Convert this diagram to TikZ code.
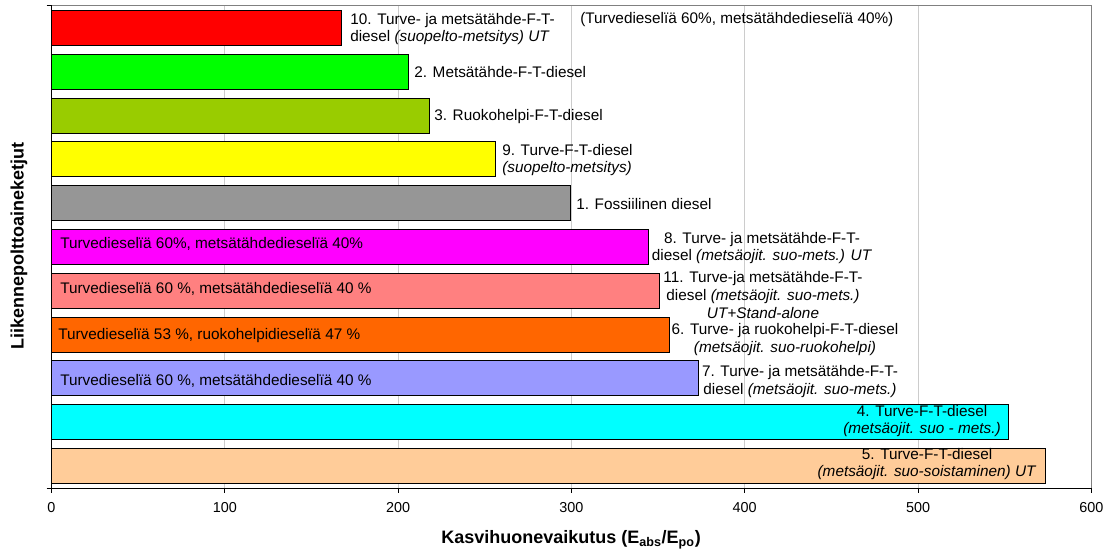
\documentclass[tikz,border=0pt]{standalone}
\usepackage{fontspec}
\setmainfont{Liberation Sans}
\definecolor{cRed}{HTML}{FF0000}
\definecolor{cGreen}{HTML}{00FF00}
\definecolor{cOlive}{HTML}{99CC00}
\definecolor{cYellow}{HTML}{FFFF00}
\definecolor{cGray}{HTML}{969696}
\definecolor{cMagenta}{HTML}{FF00FF}
\definecolor{cSalmon}{HTML}{FF8080}
\definecolor{cOrange}{HTML}{FF6600}
\definecolor{cLavender}{HTML}{9999FF}
\definecolor{cCyan}{HTML}{00FFFF}
\definecolor{cPeach}{HTML}{FFCC99}
\tikzset{
	bar/.style={draw=black, line width=0.75pt},
	gridline/.style={draw=gray!40, line width=0.75pt},
	frameline/.style={draw=gray, line width=0.75pt},
	axisline/.style={draw=black, line width=0.75pt},
	lab/.style={inner sep=0pt, font=\fontsize{11.5}{13.4}\selectfont},
	ticklab/.style={inner sep=0pt, font=\fontsize{10.8}{12}\selectfont},
	axtitle/.style={inner sep=0pt, font=\bfseries\fontsize{13.5}{15}\selectfont}
}
\begin{document}
\begin{tikzpicture}[x=0.75pt,y=-0.75pt]
	\useasboundingbox (0,0) rectangle (1106,552);
	% grid and frame
	\foreach \v in {100,200,...,500}{
		\draw[gridline] ({51.5+\v*1.733},6) -- ({51.5+\v*1.733},488);
	}
	\draw[frameline] (51.5,6) -- (1091.3,6) -- (1091.3,488);
	% bars, top to bottom
	\foreach \v/\c [count=\i] in {167.5/cRed, 206/cGreen, 218/cOlive, 256/cYellow, 299.6/cGray, 344.4/cMagenta, 351/cSalmon, 356.5/cOrange, 373.2/cLavender, 552/cCyan, 573.7/cPeach}{
		\pgfmathsetmacro\yc{6+(\i-0.5)*43.82}
		\draw[bar, fill=\c] (51.5,{\yc-17.5}) rectangle ({51.5+\v*1.733},{\yc+17.5});
	}
	% axes
	\draw[axisline] (51.5,6) -- (51.5,488) -- (1091.3,488);
	\draw[axisline] (46.5,6) -- (51.5,6);
	\draw[axisline] (46.5,488) -- (51.5,488);
	\foreach \v in {0,100,...,600}{
		\draw[axisline] ({51.5+\v*1.733},488) -- ({51.5+\v*1.733},492.5);
		\node[ticklab] (t\v) at ({51.5+\v*1.733},508) {\v};
	}
	% labels beside the bars
	\node[lab, anchor=west, align=left] (l10) at (350,29) {10. Turve- ja mets\"at\"ahde-F-T-\\diesel \textit{(suopelto-metsitys) UT}};
	\node[lab, anchor=west] (n10) at (580,20) {(Turvediesel\"i\"a 60\%, mets\"at\"ahdediesel\"i\"a 40\%)};
	\node[lab, anchor=west] (l2) at (414,72) {2. Mets\"at\"ahde-F-T-diesel};
	\node[lab, anchor=west] (l3) at (434,117) {3. Ruokohelpi-F-T-diesel};
	\node[lab, anchor=west, align=left] (l9) at (502,160) {9. Turve-F-T-diesel\\\textit{(suopelto-metsitys)}};
	\node[lab, anchor=west] (l1) at (576,204) {1. Fossiilinen diesel};
	\node[lab, anchor=west] (i8) at (60,244) {Turvediesel\"i\"a 60\%, mets\"at\"ahdediesel\"i\"a 40\%};
	\node[lab, align=center] (l8) at (762,248) {8. Turve- ja mets\"at\"ahde-F-T-\\diesel \textit{(mets\"aojit. suo-mets.) UT}};
	\node[lab, anchor=west] (i11) at (60,289) {Turvediesel\"i\"a 60 \%, mets\"at\"ahdediesel\"i\"a 40 \%};
	\node[lab, align=center] (l11) at (763,295) {11. Turve-ja mets\"at\"ahde-F-T-\\diesel \textit{(mets\"aojit. suo-mets.)}\\\textit{UT+Stand-alone}};
	\node[lab, anchor=west] (i6) at (58,336) {Turvediesel\"i\"a 53 \%, ruokohelpidiesel\"i\"a 47 \%};
	\node[lab, align=center] (l6) at (785,339.5) {6. Turve- ja ruokohelpi-F-T-diesel\\\textit{(mets\"aojit. suo-ruokohelpi)}};
	\node[lab, anchor=west] (i7) at (60,381) {Turvediesel\"i\"a 60 \%, mets\"at\"ahdediesel\"i\"a 40 \%};
	\node[lab, align=center] (l7) at (800,381.7) {7. Turve- ja mets\"at\"ahde-F-T-\\diesel \textit{(mets\"aojit. suo-mets.)}};
	\node[lab, align=center] (l4) at (922,421) {4. Turve-F-T-diesel\\\textit{(mets\"aojit. suo - mets.)}};
	\node[lab, align=center] (l5) at (927,464) {5. Turve-F-T-diesel\\\textit{(mets\"aojit. suo-soistaminen) UT}};
	% axis titles
	\node[axtitle] (xt) at (571,540) {Kasvihuonevaikutus (E\textsubscript{abs}/E\textsubscript{po})};
	\node[axtitle, rotate=90] (yt) at (19,246) {Liikennepolttoaineketjut};
\end{tikzpicture}
\end{document}
